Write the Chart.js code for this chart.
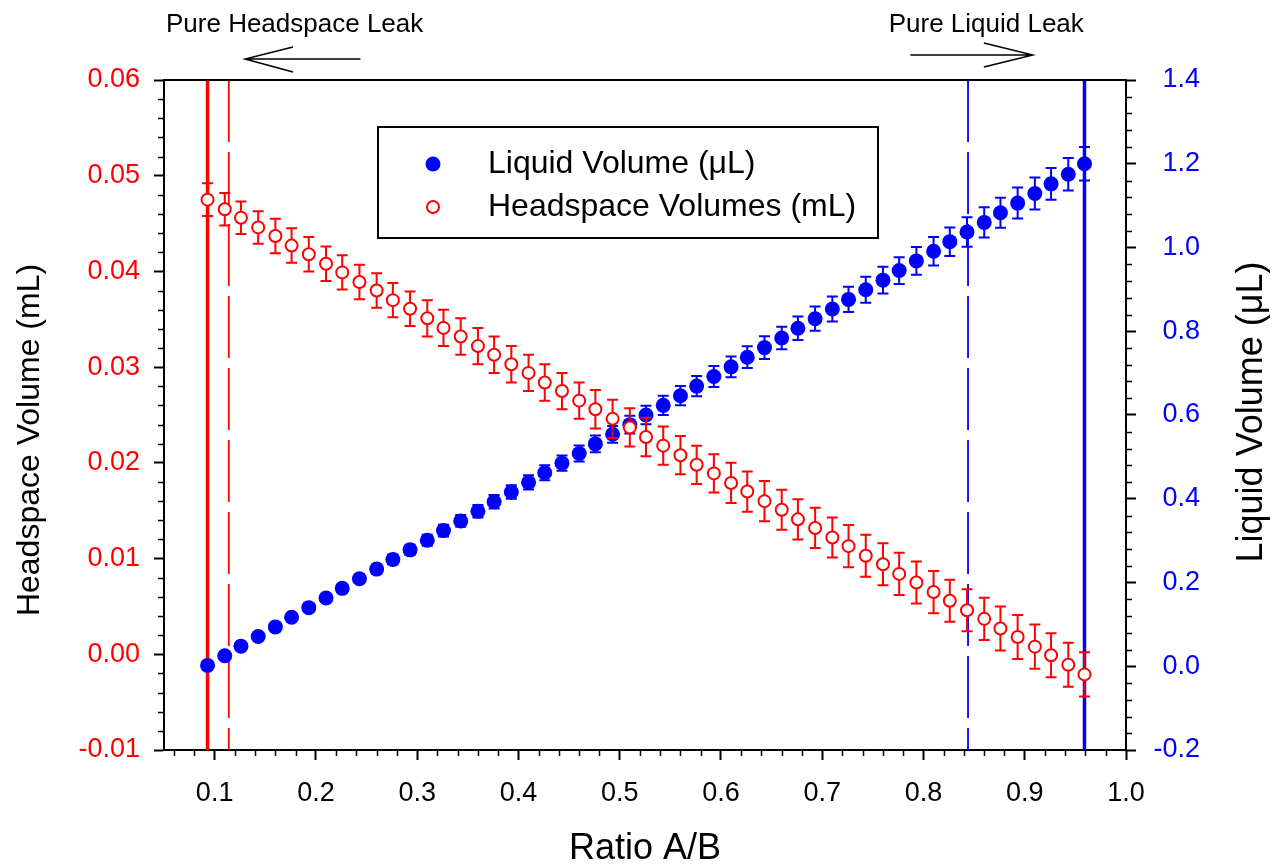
<!DOCTYPE html>
<html>
<head>
<meta charset="utf-8">
<title>Headspace and liquid volume vs ratio A/B</title>
<script src="https://cdn.jsdelivr.net/npm/chart.js@4.4.1/dist/chart.umd.min.js"></script>
<style>
    html, body { margin: 0; padding: 0; background: #fff; }
    canvas { display: block; }
</style>
</head>
<body>
<canvas id="chart" width="1282" height="867"></canvas>
<script>
// Ratio A/B of each measurement
const ratioAB = [
    0.093, 0.110, 0.126, 0.143, 0.160, 0.176, 0.193, 0.210, 0.226, 0.243,
    0.260, 0.276, 0.293, 0.310, 0.326, 0.343, 0.360, 0.376, 0.393, 0.410,
    0.426, 0.443, 0.460, 0.476, 0.493, 0.510, 0.526, 0.543, 0.560, 0.576,
    0.593, 0.610, 0.626, 0.643, 0.660, 0.676, 0.693, 0.710, 0.726, 0.743,
    0.760, 0.776, 0.793, 0.810, 0.826, 0.843, 0.860, 0.876, 0.893, 0.910,
    0.926, 0.943, 0.959
];

// Liquid volume (µL), right axis
const liquidVolume = [
    0.002, 0.025, 0.048, 0.071, 0.094, 0.117, 0.140, 0.163, 0.186, 0.209,
    0.232, 0.255, 0.278, 0.301, 0.324, 0.347, 0.370, 0.393, 0.416, 0.439,
    0.462, 0.485, 0.508, 0.531, 0.554, 0.577, 0.600, 0.623, 0.646, 0.669,
    0.692, 0.715, 0.738, 0.761, 0.784, 0.807, 0.830, 0.853, 0.876, 0.899,
    0.922, 0.945, 0.968, 0.991, 1.014, 1.037, 1.060, 1.083, 1.106, 1.129,
    1.152, 1.175, 1.200
];
const liquidError = [
    0.004, 0.005, 0.005, 0.006, 0.007, 0.008, 0.008, 0.009, 0.010, 0.010,
    0.011, 0.012, 0.012, 0.013, 0.014, 0.014, 0.015, 0.016, 0.016, 0.017,
    0.018, 0.018, 0.019, 0.020, 0.020, 0.021, 0.022, 0.023, 0.023, 0.024,
    0.025, 0.025, 0.026, 0.027, 0.027, 0.028, 0.029, 0.030, 0.030, 0.031,
    0.032, 0.032, 0.033, 0.034, 0.034, 0.035, 0.036, 0.036, 0.037, 0.038,
    0.038, 0.039, 0.040
];

// Headspace volume (mL), left axis
const headspaceVolume = [
    0.0475, 0.0465, 0.0456, 0.0446, 0.0437, 0.0427, 0.0418, 0.0408, 0.0399, 0.0389,
    0.0380, 0.0370, 0.0361, 0.0351, 0.0341, 0.0332, 0.0322, 0.0313, 0.0303, 0.0294,
    0.0284, 0.0275, 0.0265, 0.0256, 0.0246, 0.0237, 0.0227, 0.0218, 0.0208, 0.0198,
    0.0189, 0.0179, 0.0170, 0.0160, 0.0151, 0.0141, 0.0132, 0.0122, 0.0113, 0.0103,
    0.0094, 0.0084, 0.0075, 0.0065, 0.0056, 0.0046, 0.0037, 0.0027, 0.0018, 0.0008,
    -0.0001, -0.0011, -0.0021
];
const headspaceError = [
    0.0017, 0.0017, 0.0017, 0.0017, 0.0018, 0.0018, 0.0018, 0.0018, 0.0018, 0.0018,
    0.0018, 0.0018, 0.0018, 0.0019, 0.0019, 0.0019, 0.0019, 0.0019, 0.0019, 0.0019,
    0.0019, 0.0019, 0.0019, 0.0020, 0.0020, 0.0020, 0.0020, 0.0020, 0.0020, 0.0020,
    0.0020, 0.0021, 0.0021, 0.0021, 0.0021, 0.0021, 0.0021, 0.0021, 0.0022, 0.0022,
    0.0022, 0.0022, 0.0022, 0.0022, 0.0022, 0.0022, 0.0022, 0.0023, 0.0023, 0.0023,
    0.0023, 0.0023, 0.0023
];

// Limits of a pure leak: [solid, dashed]
const headspaceLimits = [0.093, 0.114];
const liquidLimits = [0.959, 0.844];

// Axes
const xTicks = [0.1, 0.2, 0.3, 0.4, 0.5, 0.6, 0.7, 0.8, 0.9, 1.0];
const leftTicks = [-0.01, 0.00, 0.01, 0.02, 0.03, 0.04, 0.05, 0.06];
const rightTicks = [-0.2, 0.0, 0.2, 0.4, 0.6, 0.8, 1.0, 1.2, 1.4];

const FONT = "'Liberation Sans', Arial, sans-serif";
const RED = '#ff0000';
const BLUE = '#0000ff';

function toPoints(xs, ys) {
    return xs.map((x, i) => ({ x: x, y: ys[i] }));
}

// Error bars, drawn just before their own dataset
const errorBars = {
    id: 'errorBars',
    beforeDatasetDraw(chart, args) {
        const ds = chart.data.datasets[args.index];
        if (!ds.errors) return;
        const xs = chart.scales.x;
        const ys = chart.scales[ds.yAxisID];
        const ctx = chart.ctx;
        ctx.save();
        ctx.strokeStyle = ds.borderColor;
        ctx.lineWidth = 2;
        ds.data.forEach((p, i) => {
            const e = ds.errors[i];
            const px = xs.getPixelForValue(p.x);
            const top = ys.getPixelForValue(p.y + e);
            const bot = ys.getPixelForValue(p.y - e);
            ctx.beginPath();
            ctx.moveTo(px, top); ctx.lineTo(px, bot);
            ctx.moveTo(px - 5.5, top); ctx.lineTo(px + 5.5, top);
            ctx.moveTo(px - 5.5, bot); ctx.lineTo(px + 5.5, bot);
            ctx.stroke();
        });
        ctx.restore();
    }
};

// Vertical limit lines
const leakLines = {
    id: 'leakLines',
    beforeDatasetsDraw(chart) {
        const { ctx, chartArea } = chart;
        const xs = chart.scales.x;
        const draw = (value, color, width, dash) => {
            const px = xs.getPixelForValue(value);
            ctx.save();
            ctx.strokeStyle = color;
            ctx.lineWidth = width;
            ctx.setLineDash(dash);
            ctx.beginPath();
            ctx.moveTo(px, chartArea.top);
            ctx.lineTo(px, chartArea.bottom);
            ctx.stroke();
            ctx.restore();
        };
        draw(headspaceLimits[0], RED, 3.5, []);
        draw(headspaceLimits[1], RED, 1.8, [62, 10]);
        draw(liquidLimits[0], BLUE, 3.5, []);
        draw(liquidLimits[1], BLUE, 1.8, [62, 10]);
    }
};

// Frame, minor ticks, legend box, axis titles and leak annotations
const decorations = {
    id: 'decorations',
    afterDraw(chart) {
        const { ctx, chartArea } = chart;
        const xs = chart.scales.x, yl = chart.scales.y, yr = chart.scales.y2;
        ctx.save();
        ctx.strokeStyle = '#000';

        // top frame line
        ctx.lineWidth = 2;
        ctx.beginPath();
        ctx.moveTo(chartArea.left, chartArea.top);
        ctx.lineTo(chartArea.right, chartArea.top);
        ctx.stroke();

        // minor ticks
        ctx.lineWidth = 1.5;
        ctx.beginPath();
        for (let k = 3; k <= 49; k++) {
            if (k % 5 === 0) continue;
            const px = Math.round(xs.getPixelForValue(k * 0.02)) + 0.5;
            ctx.moveTo(px, chartArea.bottom);
            ctx.lineTo(px, chartArea.bottom + 6);
        }
        for (let k = -4; k <= 29; k++) {
            if (k % 5 === 0) continue;
            const py = Math.round(yl.getPixelForValue(k * 0.002)) + 0.5;
            ctx.moveTo(chartArea.left - 6, py);
            ctx.lineTo(chartArea.left, py);
        }
        for (let k = -4; k <= 34; k++) {
            if (k % 5 === 0) continue;
            const py = Math.round(yr.getPixelForValue(k * 0.04)) + 0.5;
            ctx.moveTo(chartArea.right, py);
            ctx.lineTo(chartArea.right + 6, py);
        }
        ctx.stroke();

        // legend
        ctx.lineWidth = 2;
        ctx.strokeRect(378, 127, 500, 111);
        ctx.fillStyle = BLUE;
        ctx.beginPath();
        ctx.arc(433, 164, 7.5, 0, Math.PI * 2);
        ctx.fill();
        ctx.strokeStyle = RED;
        ctx.fillStyle = '#fff';
        ctx.beginPath();
        ctx.arc(433, 207, 6, 0, Math.PI * 2);
        ctx.fill();
        ctx.stroke();
        ctx.fillStyle = '#000';
        ctx.font = '32px ' + FONT;
        ctx.textAlign = 'left';
        ctx.textBaseline = 'middle';
        ctx.fillText('Liquid Volume (\u03bcL)', 488, 164);
        ctx.fillText('Headspace Volumes (mL)', 488, 207);

        // axis titles, both reading upwards
        ctx.save();
        ctx.translate(30, 440);
        ctx.rotate(-Math.PI / 2);
        ctx.font = '32px ' + FONT;
        ctx.textAlign = 'center';
        ctx.textBaseline = 'middle';
        ctx.fillText('Headspace Volume (mL)', 0, 0);
        ctx.restore();

        ctx.save();
        ctx.translate(1252, 412);
        ctx.rotate(-Math.PI / 2);
        ctx.font = '36px ' + FONT;
        ctx.textAlign = 'center';
        ctx.textBaseline = 'middle';
        ctx.fillText('Liquid Volume (\u03bcL)', 0, 0);
        ctx.restore();

        // leak annotations above the plot
        ctx.font = '26px ' + FONT;
        ctx.textAlign = 'center';
        ctx.textBaseline = 'alphabetic';
        ctx.fillStyle = '#000';
        ctx.fillText('Pure Headspace Leak', xs.getPixelForValue(0.179), 32);
        ctx.fillText('Pure Liquid Leak', xs.getPixelForValue(0.862), 32);

        ctx.strokeStyle = '#000';
        ctx.lineWidth = 1.5;
        const lTip = xs.getPixelForValue(0.130), lEnd = xs.getPixelForValue(0.244);
        ctx.beginPath();
        ctx.moveTo(lEnd, 59); ctx.lineTo(lTip, 59);
        ctx.moveTo(lTip + 48, 47); ctx.lineTo(lTip, 59); ctx.lineTo(lTip + 48, 72);
        ctx.stroke();
        const rStart = xs.getPixelForValue(0.787), rTip = xs.getPixelForValue(0.908);
        ctx.beginPath();
        ctx.moveTo(rStart, 55); ctx.lineTo(rTip, 55);
        ctx.moveTo(rTip - 49, 43); ctx.lineTo(rTip, 55); ctx.lineTo(rTip - 49, 67);
        ctx.stroke();

        ctx.restore();
    }
};

const tickFont = { family: FONT, size: 27 };

new Chart(document.getElementById('chart'), {
    type: 'scatter',
    data: {
        datasets: [
            {
                label: 'Headspace Volumes (mL)',
                data: toPoints(ratioAB, headspaceVolume),
                errors: headspaceError,
                yAxisID: 'y',
                pointStyle: 'circle',
                pointRadius: 6,
                pointBorderWidth: 2,
                borderColor: RED,
                backgroundColor: '#fff',
                order: 0
            },
            {
                label: 'Liquid Volume (\u03bcL)',
                data: toPoints(ratioAB, liquidVolume),
                errors: liquidError,
                yAxisID: 'y2',
                pointStyle: 'circle',
                pointRadius: 7.5,
                pointBorderWidth: 0,
                borderColor: BLUE,
                backgroundColor: BLUE,
                order: 1
            }
        ]
    },
    options: {
        responsive: false,
        animation: false,
        devicePixelRatio: 1,
        layout: { padding: { top: 80, right: 82, left: 0, bottom: 0 } },
        plugins: {
            legend: { display: false },
            tooltip: { enabled: false }
        },
        scales: {
            x: {
                type: 'linear',
                position: 'bottom',
                min: 0.05,
                max: 1.0,
                afterBuildTicks: s => { s.ticks = xTicks.map(v => ({ value: v })); },
                afterFit: s => { s.height = 117; },
                ticks: {
                    callback: v => v.toFixed(1),
                    font: tickFont,
                    color: '#000',
                    padding: 17,
                    maxRotation: 0,
                    autoSkip: false
                },
                grid: { drawOnChartArea: false, drawTicks: true, tickLength: 10, tickColor: '#000', tickWidth: 2 },
                border: { color: '#000', width: 2 },
                title: {
                    display: true,
                    text: 'Ratio A/B',
                    color: '#000',
                    font: { family: FONT, size: 36, lineHeight: 1 },
                    padding: 0
                }
            },
            y: {
                type: 'linear',
                position: 'left',
                min: -0.01,
                max: 0.06,
                afterBuildTicks: s => { s.ticks = leftTicks.map(v => ({ value: v })); },
                afterFit: s => { s.width = 164; },
                ticks: {
                    callback: v => v.toFixed(2),
                    font: tickFont,
                    color: RED,
                    padding: 14
                },
                grid: { drawOnChartArea: false, drawTicks: true, tickLength: 10, tickColor: '#000', tickWidth: 2 },
                border: { color: '#000', width: 2 }
            },
            y2: {
                type: 'linear',
                position: 'right',
                min: -0.2,
                max: 1.4,
                afterBuildTicks: s => { s.ticks = rightTicks.map(v => ({ value: v })); },
                afterFit: s => { s.width = 74; },
                ticks: {
                    callback: v => v.toFixed(1),
                    font: tickFont,
                    color: BLUE,
                    crossAlign: 'far'
                },
                grid: { drawOnChartArea: false, drawTicks: true, tickLength: 10, tickColor: '#000', tickWidth: 2 },
                border: { color: '#000', width: 2 }
            }
        }
    },
    plugins: [leakLines, errorBars, decorations]
});
</script>
</body>
</html>
